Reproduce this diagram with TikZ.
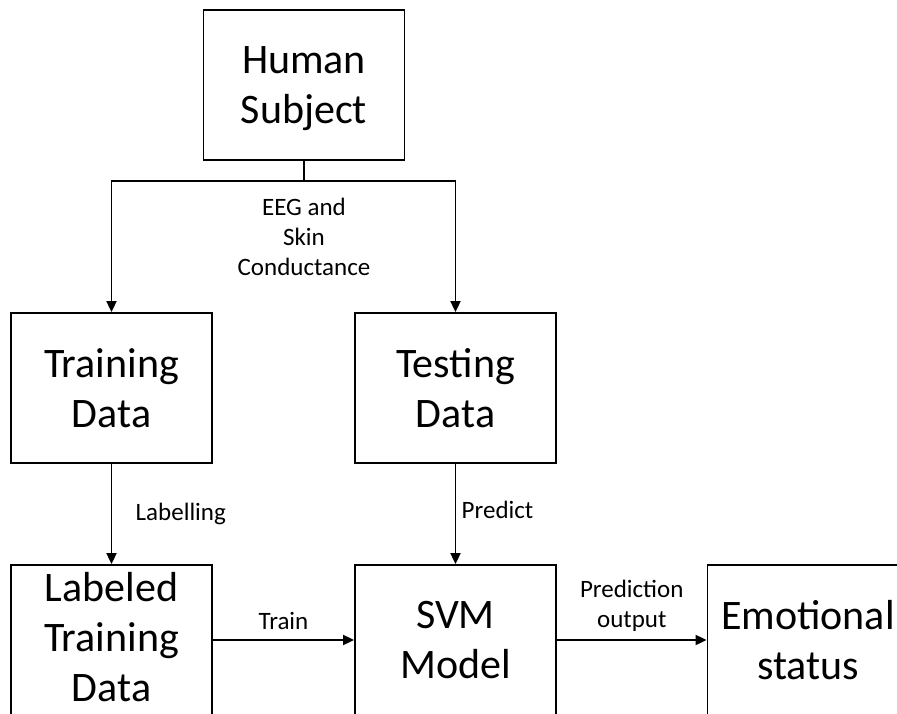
\documentclass[tikz,border=0pt]{standalone}
\usepackage{fontspec}
\setmainfont{Carlito}
\usetikzlibrary{arrows.meta}
\usetikzlibrary{positioning}

\tikzset{
	block/.style={draw, line width=1.8pt, minimum width=201pt, minimum height=150pt,
		align=center, font=\fontsize{42}{50}\selectfont},
	flow/.style={line width=1.8pt, -{Triangle[length=11pt,width=10pt]}},
	tag/.style={align=center, font=\fontsize{25}{30}\selectfont}
}

\begin{document}
\begin{tikzpicture}[x=1pt, y=1pt]

			% page frame, the bottom row runs off the edge
			\clip (0,0) rectangle (897,713);

			% ignore the j descender when centring
			\node[block, text height=77pt, text depth=0pt] (human) at (304, 628) {Human\\Subject};
			\node[block] (train) at (111.5, 325) {Training\\Data};
			\node[block] (test) at (455.5, 325) {Testing\\Data};
			% lift the three lines a little off the page edge
			\node[block, text height=127pt, text depth=5pt] (labeled) at (111.5, 73) {Labeled\\Training\\Data};
			\node[block] (svm) at (455.5, 73) {SVM\\Model};
			\node[block] (emo) at (808, 73) {Emotional\\status};

			% signals split to both data sets
			\draw[line width=1.8pt] (human.south) -- ++(0,-20) coordinate (split);
			\draw[flow] (split) -| (train.north);
			\draw[flow] (split) -| (test.north);
			\node[tag] (signal) at (304, 476) {EEG and\\Skin\\Conductance};

			\draw[flow] (train.south) -- node[tag, right=20pt] (lab) {Labelling} (labeled.north);
			\draw[flow] (test.south) -- node[tag, right=2pt, yshift=4pt] (pred) {Predict} (svm.north);
			\draw[flow] (labeled.east) -- node[tag, above=6pt] (trn) {Train} (svm.west);
			\draw[flow] (svm.east) -- node[tag, above=4pt] (out) {Prediction\\output} (emo.west);
		\end{tikzpicture}
\end{document}
